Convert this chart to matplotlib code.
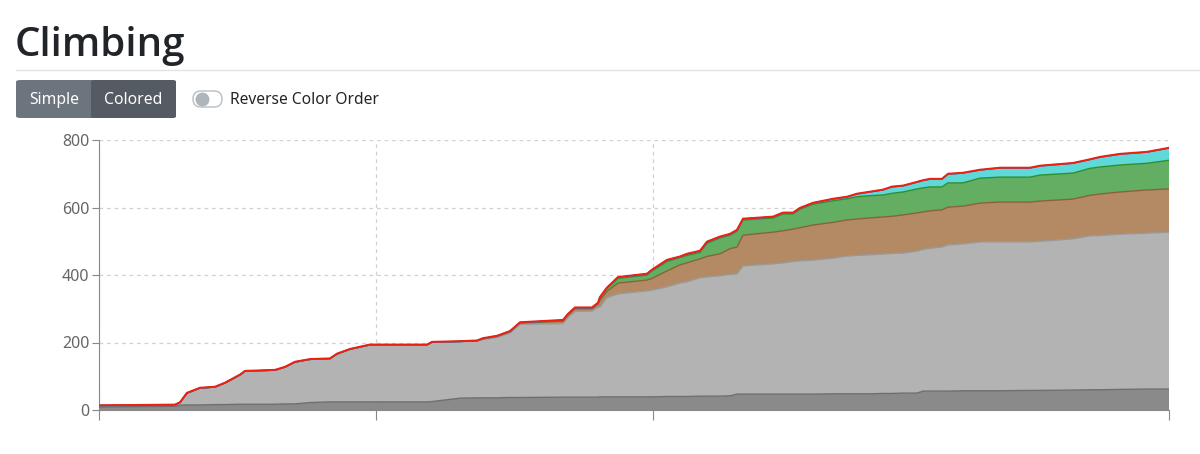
import matplotlib
matplotlib.use("Agg")
import matplotlib.pyplot as plt
from matplotlib.patches import FancyBboxPatch
import numpy as np

# x position along the time axis (no labels shown in the reference)
days = [0, 76, 81, 88, 101, 116, 126, 141, 146, 176, 186, 196, 211, 231, 238, 251,
        271, 328, 333, 361, 378, 384, 398, 411, 421, 464, 469, 476, 493, 499, 501,
        508, 519, 548, 553, 568, 581, 588, 601, 608, 621, 631, 638, 644, 674, 684,
        694, 701, 714, 734, 748, 758, 771, 784, 793, 804, 818, 824, 831, 843, 849,
        864, 881, 901, 931, 941, 974, 991, 1001, 1021, 1048, 1070]

dark = [9, 11, 14, 15, 15, 16, 16, 17, 17, 17, 18, 18, 22, 24, 24, 24,
        24, 24, 25, 35, 36, 36, 36, 37, 37, 38, 38, 38, 38, 38, 39,
        39, 39, 39, 39, 40, 40, 40, 41, 41, 41, 42, 47, 47, 47, 47,
        47, 47, 47, 48, 48, 48, 48, 49, 49, 50, 50, 56, 56, 56, 56,
        57, 57, 57, 58, 58, 59, 60, 60, 61, 62, 62]
gray = [4, 4, 8, 35, 50, 52, 64, 87, 98, 101, 109, 124, 128, 128, 142, 156,
        169, 169, 176, 168, 169, 173, 179, 191, 217, 218, 236, 254, 255, 267, 266,
        294, 305, 314, 316, 325, 336, 340, 351, 353, 357, 360, 356, 380, 386, 389,
        393, 395, 397, 402, 408, 410, 412, 413, 415, 415, 421, 420, 423, 427, 433,
        435, 441, 441, 440, 442, 448, 456, 457, 460, 462, 465]
brown = [0, 0, 0, 0, 0, 0, 0, 0, 0, 0, 0, 0, 0, 0, 0, 0,
         0, 0, 0, 0, 0, 2, 3, 4, 4, 7, 7, 8, 7, 9, 20,
         19, 32, 32, 35, 47, 54, 56, 56, 61, 65, 76, 80, 91, 94, 95,
         96, 98, 104, 106, 107, 108, 109, 110, 110, 113, 113, 111, 111, 110, 112,
         112, 115, 118, 118, 119, 118, 120, 123, 125, 128, 128]
green = [0, 0, 0, 0, 0, 0, 0, 0, 0, 0, 0, 0, 0, 0, 0, 0,
         0, 0, 0, 0, 0, 0, 1, 1, 1, 2, 2, 2, 2, 2, 7,
         8, 14, 15, 22, 28, 22, 22, 19, 39, 47, 40, 47, 45, 42, 50,
         45, 55, 62, 64, 63, 66, 66, 65, 68, 68, 71, 71, 71, 68, 72,
         69, 74, 74, 74, 77, 77, 80, 80, 80, 79, 85]
cyan = [0, 0, 0, 0, 0, 0, 0, 0, 0, 0, 0, 0, 0, 0, 0, 0,
        0, 0, 0, 0, 0, 1, 0, 0, 0, 1, 1, 1, 1, 1, 2,
        2, 3, 3, 3, 4, 2, 4, 4, 4, 3, 3, 3, 3, 3, 3,
        3, 3, 3, 5, 5, 8, 11, 15, 19, 18, 20, 22, 23, 23, 26,
        29, 24, 27, 27, 27, 29, 26, 29, 32, 33, 36]

x_ticks = [0, 277, 554, 1070]
y_ticks = [0, 200, 400, 600, 800]

fills = ["#8a8a8a", "#b3b3b3", "#b38a63", "#63ae63", "#5fd8d8"]
edges = ["#6f6f6f", "#999999", "#8a6238", "#2f8f2f", "#2fb5b5"]

fig = plt.figure(figsize=(12, 4.54), dpi=100)
W, H = 1200, 454

def fx(px):
    return px / W

def fy(py):
    return 1 - py / H

# page header
fig.text(fx(15), fy(56), "Climbing", fontsize=29, family="Open Sans",
         fontweight="semibold", color="#212529", va="baseline")
fig.add_artist(plt.Line2D([fx(16), 1], [fy(70), fy(70)], color="#e3e3e3", lw=1))

# button group
fig.add_artist(FancyBboxPatch((fx(16), fy(118)), fx(160), 38 / H,
                              boxstyle="round,pad=0,rounding_size=0.004",
                              fc="#6c757d", ec="none", transform=fig.transFigure))
fig.add_artist(FancyBboxPatch((fx(91), fy(118)), fx(85), 38 / H,
                              boxstyle="round,pad=0,rounding_size=0.004",
                              fc="#545b62", ec="none", transform=fig.transFigure))
fig.text(fx(54), fy(100), "Simple", fontsize=11.3, family="Noto Sans",
         color="white", ha="center", va="center")
fig.text(fx(133), fy(100), "Colored", fontsize=11.3, family="Noto Sans",
         color="white", ha="center", va="center")

# toggle switch
fig.add_artist(FancyBboxPatch((fx(193), fy(107)), fx(29), 16 / H,
                              boxstyle="round,pad=0,rounding_size=0.0066",
                              fc="white", ec="#b8bec4", lw=1,
                              transform=fig.transFigure, mutation_aspect=W / H))
fig.add_artist(plt.Line2D([fx(201.5)], [fy(99)], marker="o", markersize=9,
                          color="#adb5bd", transform=fig.transFigure))
fig.text(fx(230), fy(100), "Reverse Color Order", fontsize=11.2, family="Noto Sans",
         color="#212529", va="center")

# chart
ax = fig.add_axes([fx(99), fy(410), fx(1070), 270 / H])
layers = [dark, gray, brown, green, cyan]
ax.stackplot(days, *layers, colors=fills, linewidth=0, zorder=2)
top = np.zeros(len(days))
for vals, ec in zip(layers, edges):
    top = top + np.array(vals)
    ax.plot(days, top, color=ec, lw=1, zorder=3)
ax.plot(days, top, color="#5050c8", lw=1, zorder=4)
ax.plot(days, top + 1, color="#f02010", lw=1.4, zorder=5)

ax.set_xlim(0, 1070)
ax.set_ylim(0, 800)
ax.set_xticks(x_ticks)
ax.set_xticklabels([])
ax.set_yticks(y_ticks)
ax.tick_params(axis="y", labelsize=11.5, labelcolor="#666666", color="#888888",
               length=5, pad=2)
ax.tick_params(axis="x", color="#888888", length=7)
for lbl in ax.get_yticklabels():
    lbl.set_family("Noto Sans")
ax.grid(True, ls=(0, (3, 3)), color="#d0d0d0", lw=0.9, zorder=1)
ax.set_axisbelow(True)
for side in ["top", "right"]:
    ax.spines[side].set_visible(False)
ax.spines["left"].set_color("#888888")
ax.spines["bottom"].set_color("#888888")

plt.savefig("out.png", dpi=100)
